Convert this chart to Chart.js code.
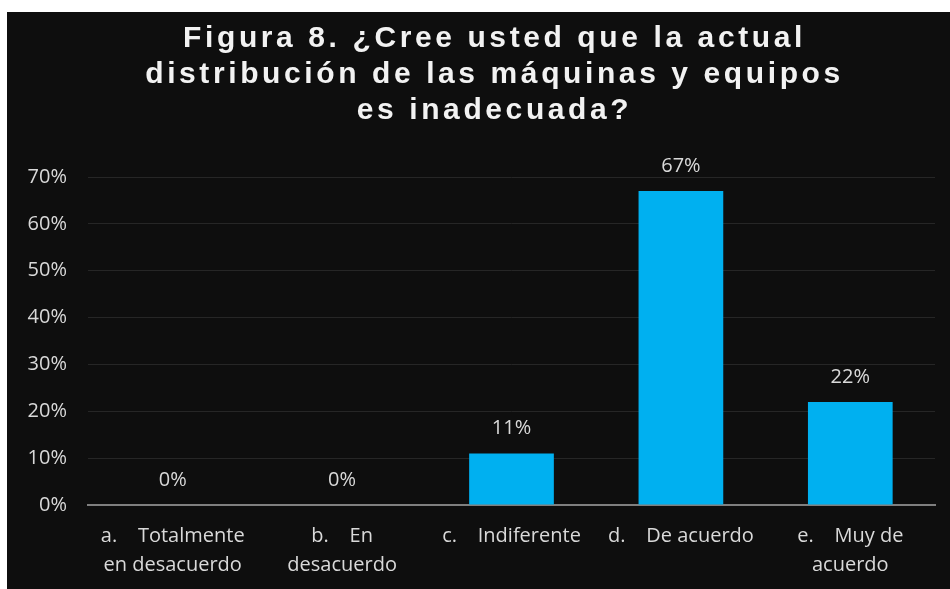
<!DOCTYPE html>
<html>
<head>
<meta charset="utf-8">
<script src="https://cdn.jsdelivr.net/npm/chart.js@4"></script>
<style>
  body { margin: 0; background: #fff; }
  #wrap { position: absolute; left: 7px; top: 12px; width: 943px; height: 577px; background: #0e0e0e; }
</style>
</head>
<body>
<div id="wrap"><canvas id="myChart"></canvas></div>
<script>
// respuestas de la encuesta
var categories = [
    ["a.    Totalmente", "en desacuerdo"],
    ["b.    En", "desacuerdo"],
    ["c.    Indiferente"],
    ["d.    De acuerdo"],
    ["e.    Muy de", "acuerdo"]
];
var values = [0, 0, 11, 67, 22];
var yTicks = [0, 10, 20, 30, 40, 50, 60, 70];
var titleLines = ["Figura 8. ¿Cree usted que la actual", "distribución de las máquinas y equipos", "es inadecuada?"];

var textColor = '#d9d9d9';
var labelFont = '"Open Sans", Lato, sans-serif';

// titulo con espaciado entre letras
var titlePlugin = {
    id: 'spacedTitle',
    afterDraw: function(chart) {
        var c = chart.ctx;
        c.save();
        c.fillStyle = '#f2f2f2';
        c.font = 'bold 30px "Liberation Sans", Arial, sans-serif';
        c.letterSpacing = '3.6px';
        c.textAlign = 'center';
        c.textBaseline = 'alphabetic';
        titleLines.forEach(function(t, i) {
            c.fillText(t, chart.width / 2 + 16, 35 + i * 36);
        });
        c.restore();
    }
};

// etiquetas de valor encima de cada barra
var valueLabels = {
    id: 'valueLabels',
    afterDatasetsDraw: function(chart) {
        var c = chart.ctx;
        var meta = chart.getDatasetMeta(0);
        c.save();
        c.fillStyle = textColor;
        c.font = '20px ' + labelFont;
        c.textAlign = 'center';
        c.textBaseline = 'middle';
        meta.data.forEach(function(bar, i) {
            c.fillText(values[i] + '%', bar.x, bar.y - 25);
        });
        c.restore();
    }
};

var ctx = document.getElementById('myChart').getContext('2d');
var myChart = new Chart(ctx, {
    type: 'bar',
    data: {
        labels: categories,
        datasets: [{
            data: values,
            backgroundColor: '#00b0f0',
            categoryPercentage: 1,
            barPercentage: 0.5
        }]
    },
    options: {
        responsive: true,
        maintainAspectRatio: false,
        animation: false,
        layout: { padding: { top: 165, right: 15, left: 0, bottom: 0 } },
        plugins: {
            legend: { display: false },
            tooltip: { enabled: false }
        },
        scales: {
            x: {
                grid: { display: false, drawTicks: false },
                border: { display: true, color: '#7f7f7f', width: 2 },
                ticks: {
                    color: textColor,
                    font: { family: labelFont, size: 20, lineHeight: 1.45 },
                    padding: 17,
                    maxRotation: 0,
                    autoSkip: false
                },
                afterFit: function(s) { s.height = 84; }
            },
            y: {
                min: 0,
                max: 70,
                afterBuildTicks: function(s) {
                    s.ticks = yTicks.map(function(v) { return { value: v }; });
                },
                grid: { color: '#262626', lineWidth: 1, drawTicks: false },
                border: { display: false },
                ticks: {
                    color: textColor,
                    font: { family: labelFont, size: 20 },
                    padding: 21,
                    callback: function(v) { return v + '%'; }
                },
                afterFit: function(s) { s.width = 81; }
            }
        }
    },
    plugins: [titlePlugin, valueLabels]
});
</script>
</body>
</html>
